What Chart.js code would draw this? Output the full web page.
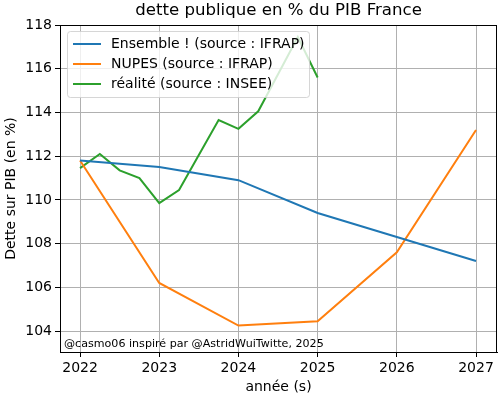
<!DOCTYPE html>
<html>
<head>
<meta charset="utf-8">
<script src="https://cdn.jsdelivr.net/npm/chart.js@4.4.1/dist/chart.umd.min.js"></script>
<style>
  html, body { margin: 0; padding: 0; background: #fff; }
  #wrap { width: 500px; height: 400px; }
</style>
</head>
<body>
<div id="wrap"><canvas id="chart"></canvas></div>
<script>
// données
const titre = 'dette publique en % du PIB France';
const annees = [2022, 2023, 2024, 2025, 2026, 2027];
const ensemble = [111.8, 111.5, 110.9, 109.4, 108.3, 107.2];
const nupes = [111.8, 106.2, 104.25, 104.45, 107.6, 113.2];
const trimestres = [2022, 2022.25, 2022.5, 2022.75, 2023, 2023.25, 2023.5, 2023.75, 2024, 2024.25, 2024.5, 2024.75, 2025];
const realite = [111.45, 112.1, 111.35, 111.0, 109.85, 110.45, 112.05, 113.65, 113.25, 114.05, 115.75, 117.45, 115.6];
const yTicks = [104, 106, 108, 110, 112, 114, 116, 118];
const signature = '@casmo06 inspiré par @AstridWuiTwitte, 2025';

const police = 'DejaVu Sans';

function points(xs, ys) {
    return xs.map((x, i) => ({ x: x, y: ys[i] }));
}

// légende, titre, cadre et signature dessinés à la main (style matplotlib)
const decor = {
    id: 'decor',
    afterDatasetsDraw(chart) {
        const ctx = chart.ctx;
        const a = chart.chartArea;
        ctx.save();

        // cadre noir
        ctx.strokeStyle = '#000';
        ctx.lineWidth = 1;
        ctx.strokeRect(a.left + 0.5, a.top + 0.5, a.right - a.left - 1, a.bottom - a.top);

        // légende
        const bx = a.left + 7, by = a.top + 6, bw = 242, bh = 66;
        ctx.fillStyle = 'rgba(255,255,255,0.8)';
        ctx.strokeStyle = 'rgba(204,204,204,0.8)';
        ctx.beginPath();
        ctx.roundRect(bx + 0.5, by + 0.5, bw, bh, 3);
        ctx.fill();
        ctx.stroke();
        ctx.font = '14px "' + police + '"';
        ctx.textBaseline = 'middle';
        chart.data.datasets.forEach((ds, i) => {
            const y = by + 13 + i * 20;
            ctx.strokeStyle = ds.borderColor;
            ctx.lineWidth = 2;
            ctx.beginPath();
            ctx.moveTo(bx + 6, y);
            ctx.lineTo(bx + 34, y);
            ctx.stroke();
            ctx.fillStyle = '#000';
            ctx.textAlign = 'left';
            ctx.fillText(ds.label, bx + 44, y);
        });

        // signature
        ctx.font = '11.1px "' + police + '"';
        ctx.fillStyle = '#000';
        ctx.textAlign = 'left';
        ctx.textBaseline = 'alphabetic';
        ctx.fillText(signature, a.left + 4, a.bottom - 5);

        // titre
        ctx.font = '16.6px "' + police + '"';
        ctx.textAlign = 'center';
        ctx.textBaseline = 'middle';
        ctx.fillText(titre, (a.left + a.right) / 2, 11);

        ctx.restore();
    }
};

new Chart(document.getElementById('chart'), {
    type: 'line',
    plugins: [decor],
    data: {
        datasets: [
            { label: 'Ensemble ! (source : IFRAP)', data: points(annees, ensemble), borderColor: '#1f77b4' },
            { label: 'NUPES (source : IFRAP)', data: points(annees, nupes), borderColor: '#ff7f0e' },
            { label: 'réalité (source : INSEE)', data: points(trimestres, realite), borderColor: '#2ca02c' }
        ]
    },
    options: {
        responsive: true,
        maintainAspectRatio: false,
        animation: false,
        layout: { padding: { left: 0, right: 3, top: 25, bottom: 0 } },
        elements: {
            line: { borderWidth: 2, tension: 0, fill: false },
            point: { radius: 0, hoverRadius: 0 }
        },
        plugins: {
            legend: { display: false },
            tooltip: { enabled: false },
            title: { display: false }
        },
        scales: {
            x: {
                type: 'linear',
                min: 2021.747,
                max: 2027.265,
                afterBuildTicks: s => { s.ticks = annees.map(v => ({ value: v })); },
                afterFit: s => { s.height = 48; },
                grid: { color: '#b0b0b0', lineWidth: 1, tickColor: '#000', tickLength: 5 },
                border: { color: '#000' },
                ticks: { color: '#000', padding: 3, font: { family: police, size: 14 }, callback: v => String(v) },
                title: { display: true, text: 'année (s)', color: '#000', font: { family: police, size: 14 }, padding: { top: 0, bottom: 4.6 } }
            },
            y: {
                min: 103.04,
                max: 118,
                afterBuildTicks: s => { s.ticks = yTicks.map(v => ({ value: v })); },
                afterFit: s => { s.width = 60; },
                grid: { color: '#b0b0b0', lineWidth: 1, tickColor: '#000', tickLength: 5 },
                border: { color: '#000' },
                ticks: { color: '#000', padding: 3, font: { family: police, size: 14 }, callback: v => String(v) },
                title: { display: true, text: 'Dette sur PIB (en %)', color: '#000', font: { family: police, size: 14 }, padding: { top: 2.6, bottom: 0 } }
            }
        }
    }
});
</script>
</body>
</html>
